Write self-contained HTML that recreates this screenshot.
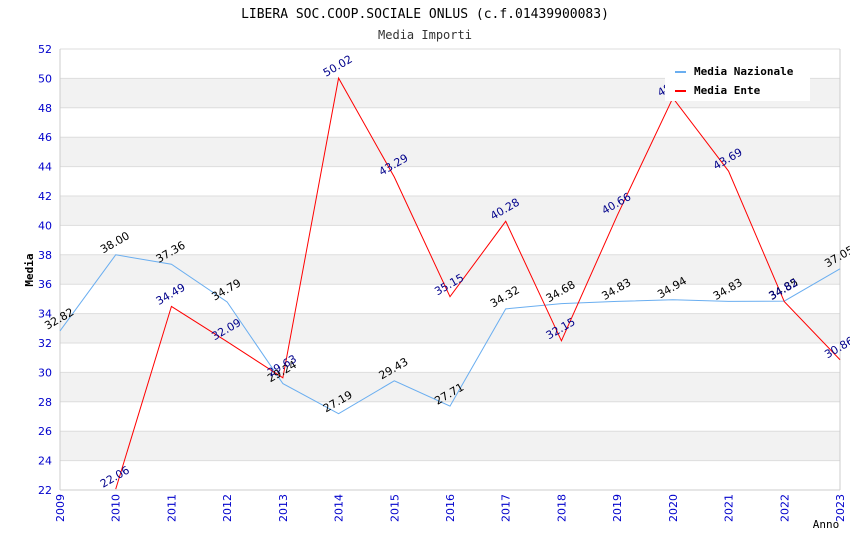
<!DOCTYPE html>
<html><head><meta charset="utf-8">
<style>
body{margin:0;background:#fff;}
svg{display:block;font-family:"DejaVu Sans","Liberation Sans",sans-serif;}
.mono{font-family:"DejaVu Sans Mono","Liberation Mono",monospace;}
</style></head>
<body>
<svg id="chart" width="850" height="550">
<text class="mono" x="425" y="18" text-anchor="middle" font-size="13" fill="#000">LIBERA SOC.COOP.SOCIALE ONLUS (c.f.01439900083)</text>
<text class="mono" x="425" y="39" text-anchor="middle" font-size="12" fill="#333">Media Importi</text>
<g id="grid"></g>
<g id="axes"></g>
<g id="series"></g>
<g id="labels"></g>
<text class="mono" x="33" y="270" text-anchor="middle" font-size="11" font-weight="bold" transform="rotate(-90 33 270)">Media</text>
<text class="mono" x="826" y="528" text-anchor="middle" font-size="11">Anno</text>
<g>
<rect x="665" y="60" width="145" height="41" fill="#fff"/>
<g>
<line x1="675" y1="72" x2="686" y2="72" stroke="#6aaef0" stroke-width="2"/>
<text class="mono" x="694" y="75" font-size="11" font-weight="bold">Media Nazionale</text></g>
<g>
<line x1="675" y1="91" x2="686" y2="91" stroke="#f00" stroke-width="2"/>
<text class="mono" x="694" y="94" font-size="11" font-weight="bold">Media Ente</text></g>
</g>
</svg>
<script>
const years=[2009,2010,2011,2012,2013,2014,2015,2016,2017,2018,2019,2020,2021,2022,2023];
const nazionale=[32.82,38.00,37.36,34.79,29.24,27.19,29.43,27.71,34.32,34.68,34.83,34.94,34.83,34.85,37.05];
const ente=[null,22.06,34.49,32.09,29.63,50.02,43.29,35.15,40.28,32.15,40.66,48.67,43.69,34.82,30.86];
const yTicks=[22,24,26,28,30,32,34,36,38,40,42,44,46,48,50,52];
const X0=60,X1=840,Y0=490,Y1=49,YMIN=22,YMAX=52;
const xs=i=>X0+(X1-X0)*i/(years.length-1);
const ys=v=>Y0-(v-YMIN)/(YMAX-YMIN)*(Y0-Y1);
const NS="http://www.w3.org/2000/svg";
function mk(tag,attrs,parent,text){const e=document.createElementNS(NS,tag);for(const k in attrs)e.setAttribute(k,attrs[k]);if(text!=null)e.textContent=text;parent.appendChild(e);return e;}
const grid=document.getElementById('grid'),axes=document.getElementById('axes'),series=document.getElementById('series'),labels=document.getElementById('labels');
for(let i=0;i<yTicks.length-1;i++){
  const a=yTicks[i],b=yTicks[i+1];
  if(i%2===1){const r=mk('rect',{x:X0,y:ys(b),width:X1-X0,height:ys(a)-ys(b),fill:'#f2f2f2'},grid);
  
  }
}
yTicks.forEach(t=>{
  const l=mk('line',{x1:X0,x2:X1,y1:ys(t),y2:ys(t),stroke:'#ddd','stroke-width':1},grid);
  
  
  const tx=mk('text',{x:X0-8,y:ys(t)+4,'text-anchor':'end','font-size':11,fill:'#00c'},axes,t);
  
  
});
years.forEach((y,i)=>{
  const tx=mk('text',{x:xs(i)+4,y:Y0+4,'text-anchor':'end','font-size':11,fill:'#00c',transform:`rotate(-90 ${xs(i)+4} ${Y0+4})`},axes,y);
  
  
});
mk('line',{x1:X0,x2:X0,y1:Y1,y2:Y0,stroke:'#ccc'},axes);
mk('line',{x1:X1,x2:X1,y1:Y1,y2:Y0,stroke:'#ccc'},axes);
mk('line',{x1:X0,x2:X1,y1:Y0,y2:Y0,stroke:'#ccc'},axes);
function draw(arr,color,name,lblColor){
  const pts=[];arr.forEach((v,i)=>{if(v!=null)pts.push([xs(i),ys(v),v]);});
  const p=mk('polyline',{points:pts.map(p=>p[0]+','+p[1]).join(' '),fill:'none',stroke:color,'stroke-width':1},series);
  
  
  pts.forEach(q=>{
    const lx=q[0]+1,ly=q[1]-9;
    const t=mk('text',{x:lx,y:ly,'text-anchor':'middle','font-size':11,fill:lblColor,transform:`rotate(-30 ${lx} ${ly})`},labels,q[2].toFixed(2));
    
    
  });
}
draw(nazionale,'#6aaef0','nazionale','#000');
draw(ente,'#f00','ente','#00008b');
</script>
</body></html>
